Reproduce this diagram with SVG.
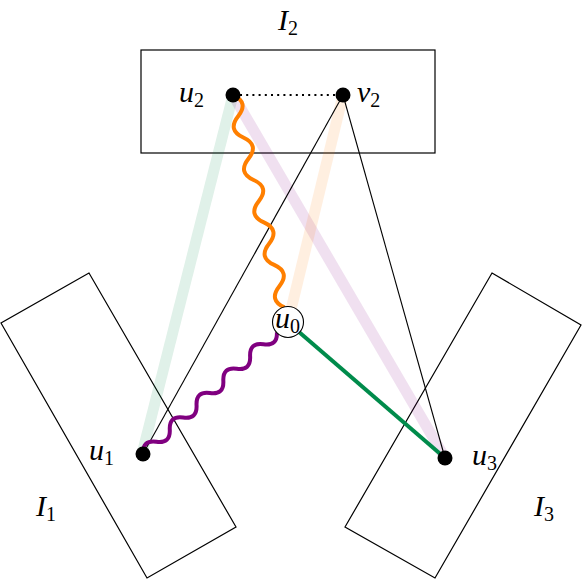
<svg xmlns="http://www.w3.org/2000/svg" width="582" height="580" viewBox="0 0 582 580">
<style>
.box{fill:none;stroke:#000;stroke-width:1.2}
.lbl{font-family:"Liberation Serif","Times New Roman","DejaVu Serif",serif;font-style:italic;font-size:30px;fill:#000}
.sub{font-style:normal;font-size:20px}
.dot{fill:#000}
.thin{stroke:#000;stroke-width:1.1;fill:none}
.band{stroke-width:11;fill:none;stroke-opacity:0.12}
</style>
<rect width="582" height="580" fill="#fff"/>
<g id="I2"><rect class="box" x="141" y="50" width="294" height="103"/><text class="lbl" x="278" y="30">I<tspan class="sub" dy="5">2</tspan></text></g>
<g id="I1"><polygon class="box" points="89,273 1,323 147,578 236,527"/><text class="lbl" x="36" y="516">I<tspan class="sub" dy="5">1</tspan></text></g>
<g id="I3"><polygon class="box" points="492,273 581,325 435,578 345,527"/><text class="lbl" x="534" y="516">I<tspan class="sub" dy="5">3</tspan></text></g>
<g id="connectors">
<line class="band" stroke="#008b4b" x1="233" y1="95" x2="143" y2="450"/>
<line class="band" stroke="#800080" x1="233" y1="95" x2="445" y2="458"/>
<line class="band" stroke="#ff7f00" x1="343" y1="95" x2="288" y2="322"/>
<line class="thin" x1="343" y1="95" x2="143" y2="454"/>
<line class="thin" x1="343" y1="95" x2="445" y2="458"/>
<line x1="240" y1="95" x2="337" y2="95" stroke="#000" stroke-width="2" stroke-dasharray="2 4.2"/>
<path d="M233 95 q16.18 7.32 5.15 21.24 t5.15 21.24 t5.15 21.24 t5.15 21.24 t5.15 21.24 t5.15 21.24 t5.15 21.24 t5.15 21.24 t5.15 21.24 t5.15 21.24" fill="none" stroke="#ff7f00" stroke-width="4"/>
<path d="M276.9 332.1 q0.71 14.24 -13.39 12.19 t-13.39 12.19 t-13.39 12.19 t-13.39 12.19 t-13.39 12.19 t-13.39 12.19 t-13.39 12.19 t-13.39 12.19 t-13.39 12.19 t-13.39 12.19" fill="none" stroke="#800080" stroke-width="4"/>
<line x1="299" y1="332" x2="445" y2="458" stroke="#008b4b" stroke-width="4"/>
</g>
<g id="u2"><circle class="dot" cx="233" cy="95" r="7.5"/><text class="lbl" x="179" y="102">u<tspan class="sub" dy="5">2</tspan></text></g>
<g id="v2"><circle class="dot" cx="343" cy="95" r="7.5"/><text class="lbl" x="357" y="102">v<tspan class="sub" dy="5">2</tspan></text></g>
<g id="u1"><circle class="dot" cx="143" cy="454" r="7.5"/><text class="lbl" x="89" y="460">u<tspan class="sub" dy="5">1</tspan></text></g>
<g id="u3"><circle class="dot" cx="445" cy="458" r="7.5"/><text class="lbl" x="472" y="465">u<tspan class="sub" dy="5">3</tspan></text></g>
<g id="u0"><circle cx="288" cy="322" r="15.5" fill="#fff" stroke="#000" stroke-width="1.1"/><text class="lbl" x="275" y="328">u<tspan class="sub" dy="5">0</tspan></text></g>
</svg>
